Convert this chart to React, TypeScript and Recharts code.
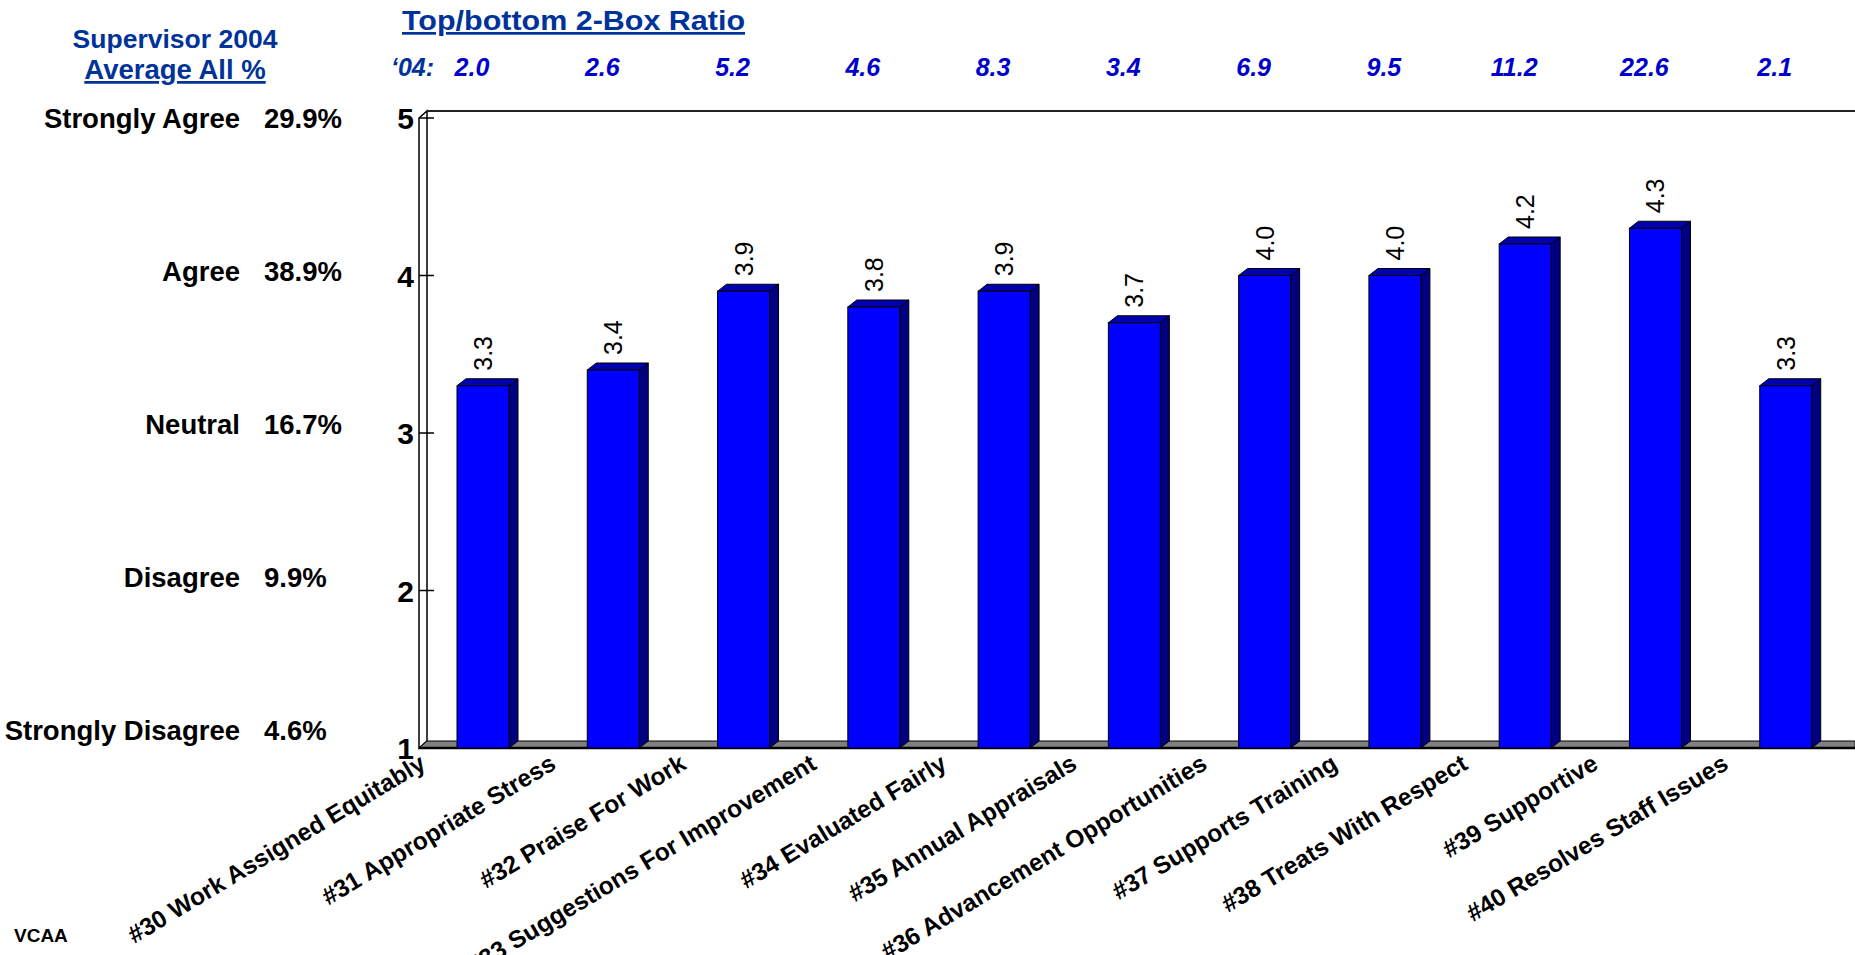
import React from 'react'
import { BarChart, Bar, XAxis, YAxis, LabelList } from 'recharts'

const questions = [
  '#30 Work Assigned Equitably',
  '#31 Appropriate Stress',
  '#32 Praise For Work',
  '#33 Suggestions For Improvement',
  '#34 Evaluated Fairly',
  '#35 Annual Appraisals',
  '#36 Advancement Opportunities',
  '#37 Supports Training',
  '#38 Treats With Respect',
  '#39 Supportive',
  '#40 Resolves Staff Issues',
]
const scores = [3.3, 3.4, 3.9, 3.8, 3.9, 3.7, 4.0, 4.0, 4.2, 4.3, 3.3]
const boxRatios = ['2.0', '2.6', '5.2', '4.6', '8.3', '3.4', '6.9', '9.5', '11.2', '22.6', '2.1']
const scaleTicks = [1, 2, 3, 4, 5]
const responseLevels = ['Strongly Agree', 'Agree', 'Neutral', 'Disagree', 'Strongly Disagree']
const responseShares = ['29.9%', '38.9%', '16.7%', '9.9%', '4.6%']

const data = questions.map((q, i) => ({ question: q, score: scores[i], ratio: boxRatios[i] }))

const W = 1855
const H = 955
const LEFT = 418
const TOP = 118
const BOTTOM = 748
const DX = 9
const DY = 7
const FONT = '"Liberation Sans", Arial, Helvetica, sans-serif'
const HEAD_BLUE = '#003399'

// front face + side + top, fake 3d like the old office charts
function Bar3D(props: any) {
  const { x, y, width, height } = props
  if (height == null || isNaN(height)) return null
  const r = x + width
  return (
    <g stroke="#000" strokeWidth={1}>
      <polygon points={`${r},${y} ${r + DX},${y - DY} ${r + DX},${y + height - DY} ${r},${y + height}`} fill="#000080" />
      <polygon points={`${x},${y} ${x + DX},${y - DY} ${r + DX},${y - DY} ${r},${y}`} fill="#0000B0" />
      <rect x={x} y={y} width={width} height={height} fill="#0000FF" />
    </g>
  )
}

function ScoreLabel(props: any) {
  const { x, y, width, value } = props
  const cx = x + width / 2 + 9
  const cy = y - 15
  return (
    <text x={cx} y={cy} transform={`rotate(-90 ${cx} ${cy})`} fontSize={25} fontFamily={FONT} fill="#000">
      {Number(value).toFixed(1)}
    </text>
  )
}

function RatioLabel(props: any) {
  const { x, width, value } = props
  return (
    <text x={x + width / 2 - 11} y={76} textAnchor="middle" fontSize={25} fontWeight="bold" fontStyle="italic" fontFamily={FONT} fill="#0000CC">
      {value}
    </text>
  )
}

function QuestionTick(props: any) {
  const { x, payload } = props
  const ax = x - 56
  const ay = 768
  return (
    <text x={ax} y={ay} textAnchor="end" transform={`rotate(-31 ${ax} ${ay})`} fontSize={24.5} fontWeight="bold" fontFamily={FONT} fill="#000">
      {payload.value}
    </text>
  )
}

function ScaleTick(props: any) {
  const { y, payload } = props
  const i = 5 - payload.value
  const ly = TOP + i * 153 + 10
  return (
    <g fontFamily={FONT} fontWeight="bold" fill="#000">
      <text x={414} y={y + 11} textAnchor="end" fontSize={30}>{payload.value}</text>
      <line x1={419} x2={434} y1={y} y2={y} stroke="#000" strokeWidth={1.5} />
      <text x={240} y={ly} textAnchor="end" fontSize={27.5}>{responseLevels[i]}</text>
      <text x={264} y={ly} fontSize={27.5}>{responseShares[i]}</text>
    </g>
  )
}

function Backdrop() {
  return (
    <svg width={W} height={H} style={{ position: 'absolute', left: 0, top: 0 }}>
      {/* left wall */}
      <polygon points={`${LEFT + 1},${TOP} ${LEFT + DX},${TOP - DY} ${LEFT + DX},${BOTTOM - DY} ${LEFT + 1},${BOTTOM}`} fill="#fff" stroke="#000" strokeWidth={1.5} />
      <line x1={LEFT + DX} x2={W} y1={TOP - DY} y2={TOP - DY} stroke="#222" strokeWidth={2} />
      {/* floor */}
      <polygon points={`${LEFT + 1},${BOTTOM} ${LEFT + DX},${BOTTOM - DY} ${W},${BOTTOM - DY} ${W},${BOTTOM}`} fill="#808080" stroke="#000" strokeWidth={1} />
      <line x1={LEFT + 1} x2={W} y1={BOTTOM} y2={BOTTOM} stroke="#000" strokeWidth={2.5} />

      <g fontFamily={FONT} fontWeight="bold" fill={HEAD_BLUE}>
        <text x={175} y={48} textAnchor="middle" fontSize={26.5}>Supervisor 2004</text>
        <text x={175} y={79} textAnchor="middle" fontSize={27.5} style={{ textDecoration: 'underline' }}>Average All %</text>
        <text x={402} y={30} fontSize={27} textLength={343} lengthAdjust="spacingAndGlyphs" style={{ textDecoration: 'underline' }}>
          Top/bottom 2-Box Ratio
        </text>
        <text x={391} y={76} fontSize={25} fontStyle="italic">‘04:</text>
      </g>
      <text x={14} y={942} fontFamily={FONT} fontWeight="bold" fontSize={19} fill="#000">VCAA</text>
    </svg>
  )
}

export default function App() {
  return (
    <div style={{ position: 'absolute', left: 0, top: 0, width: W, height: H, background: '#fff' }}>
      <Backdrop />
      <div style={{ position: 'absolute', left: 0, top: 0 }}>
        <BarChart width={W} height={H} data={data} margin={{ top: TOP, right: 4, bottom: 0, left: 0 }}>
          <XAxis dataKey="question" interval={0} height={H - BOTTOM} axisLine={false} tickLine={false} tick={<QuestionTick />} />
          <YAxis type="number" domain={[1, 5]} ticks={scaleTicks} width={LEFT} axisLine={false} tickLine={false} tick={<ScaleTick />} />
          <Bar dataKey="score" barSize={52} shape={<Bar3D />} isAnimationActive={false}>
            <LabelList dataKey="score" content={<ScoreLabel />} />
            <LabelList dataKey="ratio" content={<RatioLabel />} />
          </Bar>
        </BarChart>
      </div>
    </div>
  )
}
